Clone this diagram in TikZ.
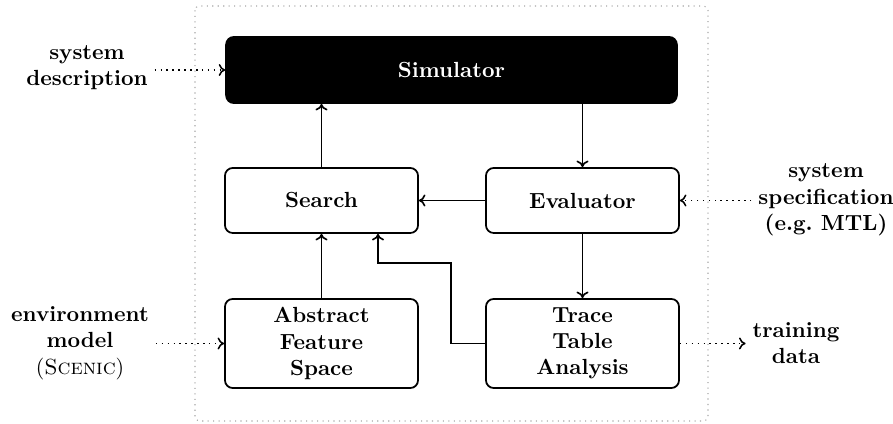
\documentclass[tikz,border=0pt]{standalone}
\usetikzlibrary{arrows.meta}
\begin{document}
\begin{tikzpicture}[x=0.457pt,y=-0.457pt,
  blk/.style={draw,line width=0.8pt,rounded corners=3.5pt,align=center,font=\bfseries,inner sep=0pt},
  lbl/.style={align=center,font=\bfseries,inner sep=3pt},
  conn/.style={line width=0.75pt,-{To[length=3pt,width=5.5pt]}},
  ext/.style={line width=0.7pt,dotted,-{To[length=3pt,width=5.5pt]}}]
\useasboundingbox (0,0) rectangle (893,424);
\draw[gray!70,dotted,line width=0.5pt,rounded corners=2pt] (195,6) rectangle (708,421);
\node[blk,fill=black,text=white,minimum width=206pt,minimum height=30.2pt] (sim) at (451.5,70) {Simulator};
\node[blk,minimum width=88.2pt,minimum height=29.7pt] (search) at (321.5,200.5) {Search};
\node[blk,minimum width=88.2pt,minimum height=29.7pt] (eval) at (582.5,200.5) {Evaluator};
\node[blk,minimum width=88.2pt,minimum height=40.7pt] (afs) at (321.5,343.5) {Abstract\\Feature\\Space};
\node[blk,minimum width=88.2pt,minimum height=40.7pt] (trace) at (582.5,343.5) {Trace\\Table\\Analysis};
\node[lbl] (sysdesc) at (87,68) {system\\description};
\node[lbl] (spec) at (826,200) {system\\specification\\(e.g.\ MTL)};
\node[lbl] (env) at (80,343) {environment\\model\\\textmd{(\textsc{Scenic})}};
\node[lbl] (train) at (796,343) {training\\data};
\coordinate (bend) at (378,263);
\draw[conn] (search.north) -- (sim.south -| search.north);
\draw[conn] (sim.south -| eval.north) -- (eval.north);
\draw[conn] (eval.west) -- (search.east);
\draw[conn] (eval.south) -- (trace.north);
\draw[conn] (afs.north) -- (search.south);
\draw[conn] (trace.west) -- ++(-34,0) |- (bend) -- (bend |- search.south);
\draw[ext] (sysdesc.east |- sim.west) -- (sim.west);
\draw[ext] (spec.west |- eval.east) -- (eval.east);
\draw[ext] (env.east |- afs.west) -- (afs.west);
\draw[ext] (trace.east) -- (train.west |- trace.east);
\end{tikzpicture}
\end{document}
